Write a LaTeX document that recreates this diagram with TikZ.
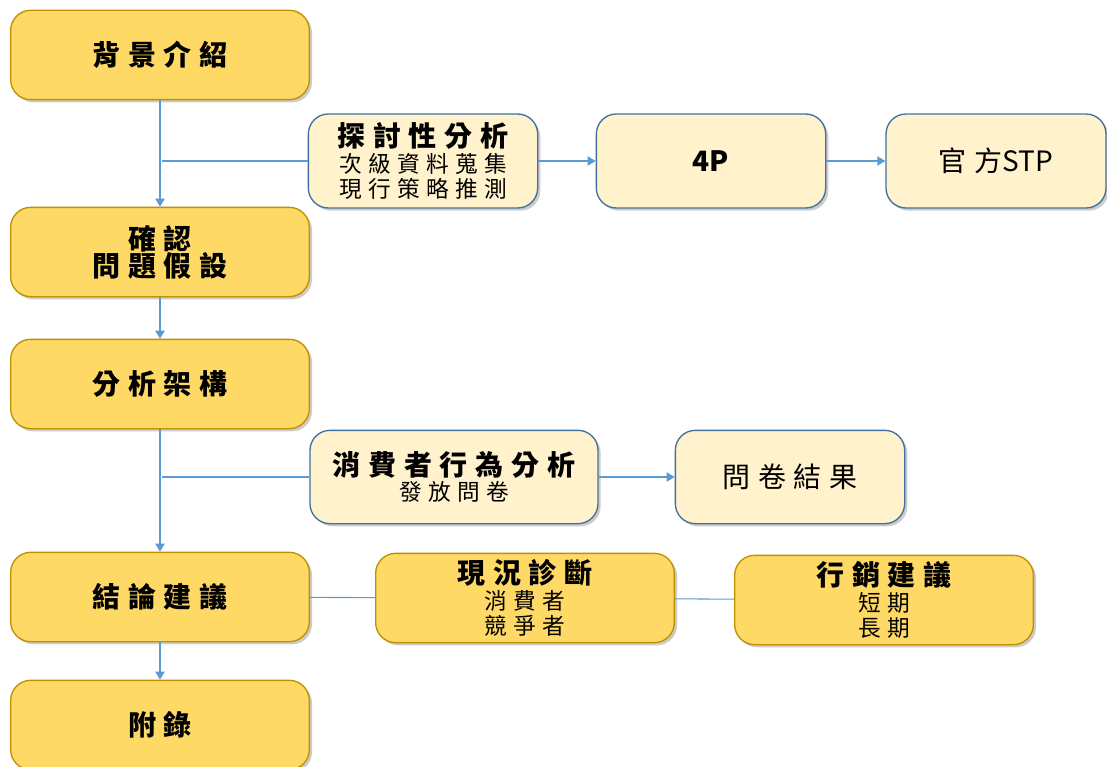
\documentclass[tikz,border=0pt]{standalone}
\usepackage{fontspec}
\setmainfont{Noto Sans CJK TC}[LetterSpace=28]
\newfontfamily\lat{Noto Sans CJK TC}
\usetikzlibrary{arrows.meta,shadows}
\definecolor{gold}{HTML}{FFD966}
\definecolor{goldline}{HTML}{BF9000}
\definecolor{cream}{HTML}{FFF2CC}
\definecolor{steel}{HTML}{41719C}
\definecolor{link}{HTML}{5B9BD5}
\newcommand\hd{\bfseries\fontsize{21}{20.25}\selectfont}
\newcommand\hn{\mdseries\fontsize{21}{20.25}\selectfont}
\newcommand\sm{\mdseries\fontsize{17}{19}\selectfont}

\begin{document}
\begin{tikzpicture}[x=0.75pt,y=-0.75pt,
  box/.style={rectangle,rounded corners=15pt,line width=1pt,align=center,inner sep=0pt,font=\hd,
    drop shadow={shadow xshift=2pt,shadow yshift=-2pt,fill=black!50,opacity=.4}},
  g/.style={box,fill=gold,draw=goldline,minimum width=224pt,minimum height=67pt},
  c/.style={box,fill=cream,draw=steel,minimum width=172pt,minimum height=70.5pt},
  ln/.style={draw=link,line width=.8pt},
  ar/.style={ln,-{Triangle[length=6pt,width=7pt]}}]
  \useasboundingbox (0,0) rectangle (1107,767);

  % main column
  \node[g] (bg) at (160,55) {背景介紹};
  \node[g] (qr) at (160,252) {確認\\問題假設};
  \node[g] (fa) at (160,384) {分析架構};
  \node[g] (jl) at (160,597) {結論建議};
  \node[g] (fl) at (160,725) {附錄};

  % side rows
  \node[c,font=\sm] (tt) at (423,161) {{\hd 探討性分析}\\次級資料蒐集\\現行策略推測};
  \node[c] (p4) at (711,161) {\lat 4P};
  \node[c,font=\hn,minimum width=165pt] (stp) at (996,161) {官方{\lat STP}};
  \node[c,font=\sm,minimum width=216pt,minimum height=70pt] (xf) at (454,477) {{\hd 消費者行為分析}\\發放問卷};
  \node[c,font=\hn,minimum height=70pt] (wj) at (790,477) {問卷結果};
  \node[g,font=\sm] (xk) at (525,598) {{\hd 現況診斷}\\消費者\\競爭者};
  \node[g,font=\sm] (xx) at (884,600) {{\hd 行銷建議}\\短期\\長期};

  \coordinate (j1) at (162,161);
  \coordinate (j2) at (162,477);

  \draw[ar] (bg) -- (qr);
  \draw[ln] (j1) -- (tt);
  \draw[ar] (tt) -- (p4);
  \draw[ar] (p4) -- (stp);
  \draw[ar] (qr) -- (fa);
  \draw[ar] (fa) -- (jl);
  \draw[ln] (j2) -- (xf);
  \draw[ar] (xf) -- (wj);
  \draw[ln] (jl) -- (xk);
  \draw[ln] (xk) -- (xx);
  \draw[ar] (jl) -- (fl);
\end{tikzpicture}
\end{document}
